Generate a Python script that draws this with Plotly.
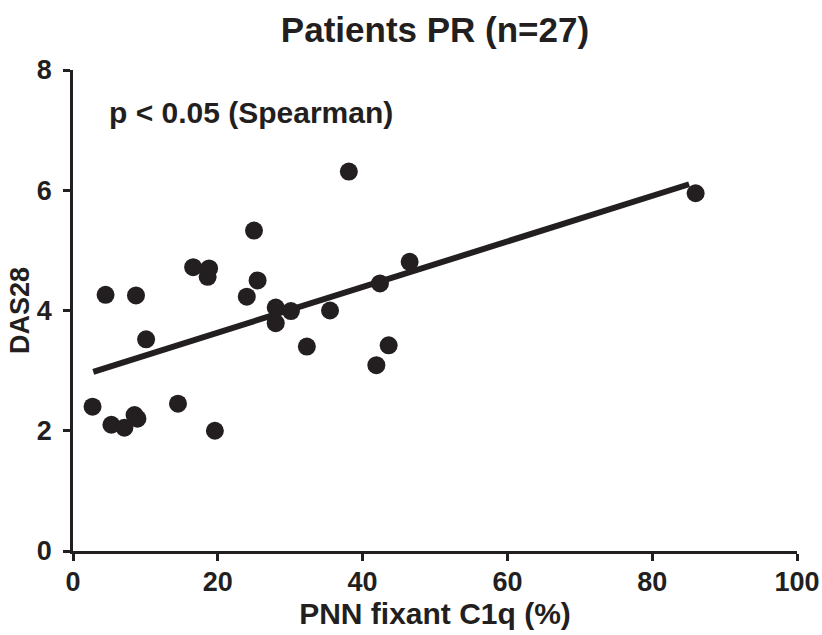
import plotly.graph_objects as go

# Data
pnn_c1q = [2.7, 4.5, 8.7, 10.1, 5.3, 7.1, 8.5, 8.9, 14.5, 19.6, 16.6, 18.8, 18.6,
           25.0, 25.5, 24.0, 28.0, 30.1, 28.0, 32.3, 38.1, 35.5, 42.4, 46.5, 43.6, 41.9, 86.0]
das28 = [2.40, 4.26, 4.25, 3.52, 2.10, 2.05, 2.26, 2.20, 2.45, 2.00, 4.72, 4.70, 4.56,
         5.33, 4.50, 4.23, 4.05, 3.99, 3.79, 3.40, 6.31, 4.00, 4.45, 4.81, 3.42, 3.09, 5.95]
fit_x = [2.8, 85.1]
fit_y = [2.98, 6.10]
x_ticks = [0, 20, 40, 60, 80, 100]
y_ticks = [0, 2, 4, 6, 8]

ink = "#231f20"
fam = "Liberation Sans, Arial, Helvetica, sans-serif"

fig = go.Figure()
fig.add_trace(go.Scatter(x=fit_x, y=fit_y, mode="lines",
                         line=dict(color=ink, width=6), showlegend=False, hoverinfo="skip"))
fig.add_trace(go.Scatter(x=pnn_c1q, y=das28, mode="markers",
                         marker=dict(color=ink, size=18, line=dict(width=0)), showlegend=False))

fig.update_layout(
    width=822, height=635,
    margin=dict(l=73, r=25, t=70, b=84),
    plot_bgcolor="white", paper_bgcolor="white",
    font=dict(family=fam, color=ink, size=26, weight=700),
    title=dict(text="Patients PR (n=27)", x=0.5, xref="paper", xanchor="center",
               y=1 - 30 / 635, yref="container", yanchor="middle", automargin=False,
               font=dict(family=fam, size=35, color=ink, weight=700)),
    xaxis=dict(range=[0, 100], tickvals=x_ticks, showgrid=False, zeroline=False,
               automargin=False,
               showline=True, linecolor=ink, linewidth=2.5,
               ticks="outside", ticklen=7, tickwidth=2.5, tickcolor=ink,
               ticklabelstandoff=-2,
               tickfont=dict(family=fam, size=27, color=ink, weight=700),
               title=dict(text="PNN fixant C1q (%)", standoff=0,
                          font=dict(family=fam, size=30, color=ink, weight=700))),
    yaxis=dict(range=[0, 8], tickvals=y_ticks, showgrid=False, zeroline=False,
               automargin=False,
               showline=True, linecolor=ink, linewidth=2.5,
               ticks="outside", ticklen=7, tickwidth=2.5, tickcolor=ink,
               ticklabelstandoff=6,
               tickfont=dict(family=fam, size=27, color=ink, weight=700),
               title=dict(text="DAS28", standoff=0,
                          font=dict(family=fam, size=27, color=ink, weight=700))),
    annotations=[dict(text="p < 0.05 (Spearman)", x=4.7, y=7.30, xref="x", yref="y",
                      xanchor="left", yanchor="middle", showarrow=False,
                      font=dict(family=fam, size=30, color=ink, weight=700))],
)

fig.write_html("out.html", config={"displayModeBar": False},
               post_script="document.body.style.margin='0px';")
